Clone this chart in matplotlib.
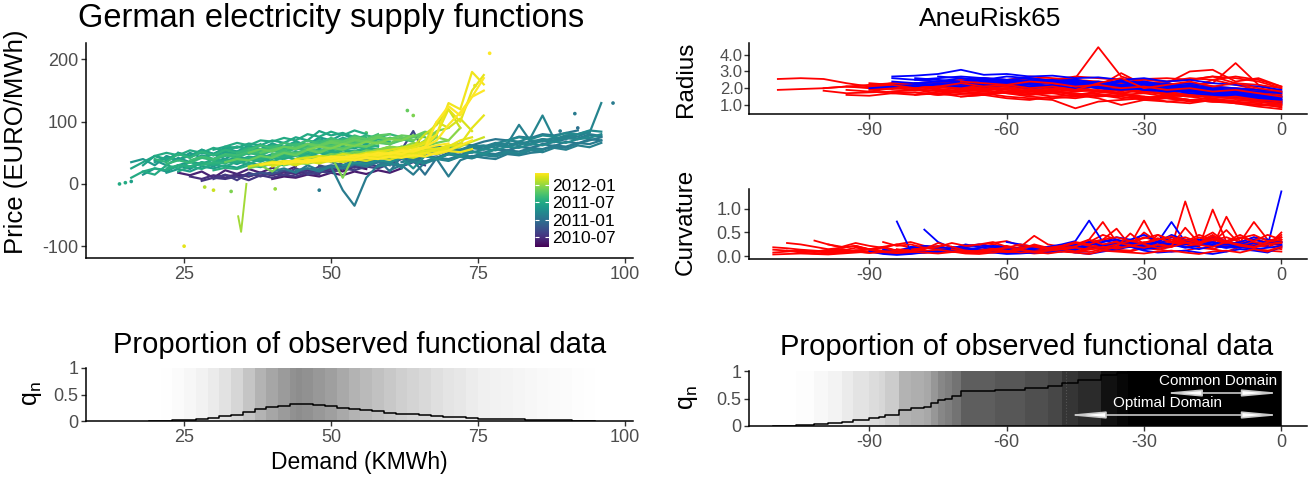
import numpy as np
import matplotlib
matplotlib.use("Agg")
import matplotlib.pyplot as plt
from matplotlib.colors import Normalize

plt.rcParams['font.family'] = ['Liberation Sans', 'DejaVu Sans']
plt.rcParams['mathtext.fontset'] = 'custom'
plt.rcParams['mathtext.rm'] = 'Liberation Sans'
plt.rcParams['mathtext.it'] = 'Liberation Sans:italic'
plt.rcParams['axes.unicode_minus'] = False

nan = np.nan

# ---------------- German electricity supply functions ----------------
# months counted from 2010-07
date_ticks = [0, 6, 12, 18]
date_labels = ['2010-07', '2011-01', '2011-07', '2012-01']

demand_grid = [14, 16, 18, 20, 22, 24, 26, 28, 30, 32, 34, 36, 38, 40, 42, 44, 46, 48, 50,
               52, 54, 56, 58, 60, 62, 64, 66, 68, 70, 72, 74, 76, 78, 80, 82, 84, 86, 88,
               90, 92, 94, 96, 98]

# (month, first demand, prices along demand_grid)
supply_curves = [
    (-3, 30, [10, 14, 12, 16, 13, 18, 15, 20, 17, 22, 19, 24]),
    (-2, 34, [15, 12, 18, 14, 20, 16, 22, 18, 25, 20, 28, 24]),
    (-1.5, 40, [8, 12, 10, 15, 12, 18, 14, 20, 16, 22, 18, 25]),
    (-1, 24, [18, 14, 20, 10, 22, 16, 24, 18, 26, 20, 28]),
    (0, 26, [12, 8, 14, 10, 16, 12, 18, 14, 20, 16, 22, 18, 24]),
    (0.5, 28, [5, 10, 8, 12, 6, 14, 10, 15, 12, 18, 15]),
    (1, 30, [8, 15, 6, 18, 12, 20, 14, 25, 18, 28, 22, 30, 26, 32, 28]),
    (1.5, 46, [15, 20, 18, 25, 22, 28, 25, 32, 28, 35, 30]),
    (2, 48, [30, 25, 35, 40, 38, 45, 50, 55, 85, 48]),
    (2.5, 52, [25, 30, 28, 35, 32, 40, 36, 45, 40, 48]),
    (3, 36, [14, 18, 16, 22, 19, 25, 22, 28, 25, 32]),
    (5, 48, [25, 30, 28, 34, 31, 38, 35, 42, 38, 46, 42, 50, 46, 54]),
    (6, 50, [35, 30, 38, 34, 40, 20, 45, 38, 15, 42, 48, 44, 52, 50, 56, 54, 60, 58, 64, 68, 72]),
    (6, 56, [38, 42, 40, 46, 43, 50, 47, 54, 51, 58, 55, 62, 59, 66, 63, 70, 67, 74, 72, 78, 76]),
    (6.5, 66, [55, 60, 58, 65, 62, 68, 72, 70, 76, 74, 80, 78, 82, 86]),
    (6.5, 64, [40, 45, 42, 48, 45, 52, 49, 56, 53, 60, 57, 64, 61, 68, 65, 72, 70]),
    (7, 58, [30, 35, 28, 40, 36, 42, 38, 45, 42, 50, 46, 52, 48, 56, 55, 60, 58, 65, 70, 75]),
    (7, 44, [22, 25, 20, 28, -10, -35, 10, 30]),
    (7, 40, [20, 25, 18, 30, 22, 28, 25, 32, 28, 35, 30]),
    (7, 60, [22, 30, 15, 35, 40, 12, 38, 45, 42, 40, 48, 46, 50, 52]),
    (7, 68, [52, 56, 54, 60, 57, 64, 61, 68, 65, 72, 69, 76, 73, 80, 77]),
    (7, 62, [35, 38, 36, 42, 40, 46, 44, 50, 48, 54, 52, 58, 56, 62, 60, 66, 64, 70]),
    (7.5, 54, [40, 46, 42, 50, 25, 48, 55, 52, 58, 55, 62, 60, 66, 64, 95, 68, 72, 70, 78, 76, 84]),
    (7.5, 74, [42, 46, 44, 50, 47, 54, 51, 58, 55, 62, 59, 66]),
    (8, 62, [45, 40, 52, 48, 55, 50, 60, 62, 58, 66, 62, 70, 68, 75, 72, 80, 82, 130]),
    (8, 78, [65, 70, 68, 75, 110, 72, 78, 80, 85]),
    (8, 58, [28, 32, 30, 36, 33, 40, 37, 44, 41, 48, 45, 52, 49, 56, 54]),
    (8, 72, [55, 58, 56, 62, 60, 66, 64, 70, 68, 74, 72, 78]),
    (8.5, 70, [48, 52, 50, 56, 54, 60, 58, 64, 62, 68, 66, 72, 74, 80]),
    (8.5, 80, [70, 75, 72, 78, 76, 82, 80, 86, 84]),
    (9, 52, [30, 34, 32, 38, 35, 42, 25, 45, 40, 48, 44, 52, 48, 56]),
    (9.5, 18, [15, 25, 20, 30, 24, 35, 28, 38, 32, 40, 36, 44]),
    (10, 16, [35, 40, 30, 45, 38, 50, 42, 48, 40, 52]),
    (10, 20, [38, 30, 42, 35, 46, 40, 50, 44, 52, 48, 56, 50, 58]),
    (10, 24, [30, 36, 32, 40, 36, 44, 40, 47, 43, 50]),
    (10.5, 26, [45, 52, 48, 56, 50, 60, 55, 65, 58, 68, 62, 75, 70, 80, 72, 78]),
    (10.5, 22, [18, 24, 20, 28, 25, 30, 26, 34, 30, 38, 34, 40, 38, 44, 40]),
    (11, 18, [30, 45, 38, 50, 42, 55, 48, 58, 50, 60, 55, 62, 58, 65, 60, 68, 62]),
    (11, 20, [35, 42, 38, 46, 52, 48, 55, 60, 56, 62, 58, 66, 62, 70, 66, 72, 68, 75]),
    (11, 24, [50, 45, 55, 48, 58, 52, 62, 56, 64, 60, 68, 62, 72, 66, 74, 70]),
    (11, 30, [35, 40, 37, 44, 41, 48, 45, 52, 49, 56, 53, 60, 57, 64, 60]),
    (11.5, 30, [55, 60, 58, 65, 62, 70, 66, 75, 70, 85, 78, 82, 75, 70, 68, 65]),
    (11.5, 16, [25, 35, 45, 40, 48, 44, 50, 46, 52, 48, 55]),
    (11.5, 26, [28, 32, 30, 36, 33, 40, 36, 42, 40, 46, 44, 50, 47, 54, 50, 56, 54, 60]),
    (12, 16, [10, 20, 15, 30, 25, 35, 30, 40, 35, 42, 38, 45, 40]),
    (12, 24, [20, 28, 24, 32, 28, 36, 32, 40, 36, 44, 40, 48, 44, 52, 48]),
    (12, 18, [20, 25, 22, 30, 28, 34, 30, 38, 35, 42, 38, 46, 44, 50, 48]),
    (12, 32, [60, 66, 62, 70, 68, 74, 70, 80, 76, 84, 78, 86, 80]),
    (12, 28, [42, 48, 45, 52, 48, 56, 52, 58, 55, 62, 58, 66, 62, 68, 65, 72, 68]),
    (12, 20, [45, 50, 46, 54, 50, 58, 53, 60, 56, 64]),
    (12.5, 22, [25, 30, 28, 35, 32, 38, 36, 42, 40, 45, 43, 48, 46, 52, 50, 55, 53, 58, 56]),
    (12.5, 30, [22, 26, 24, 30, 27, 33, 30, 36, 34, 40, 37, 44, 40, 46, 44, 50]),
    (13, 20, [40, 35, 48, 42, 52, 46, 55, 50, 58, 54, 62, 58, 65, 60, 70, 65, 72, 68, 74]),
    (13, 28, [30, 35, 33, 40, 37, 44, 42, 48, 45, 52, 50, 56, 54, 60, 58, 62]),
    (13, 34, [45, 50, 47, 54, 50, 58, 54, 62, 58, 66, 62, 70, 66, 74]),
    (13.5, 34, [50, 55, 52, 60, 56, 65, 60, 70, 64, 72, 68, 78, 74, 80, 75]),
    (13.5, 22, [32, 38, 34, 42, 38, 46, 42, 50, 46, 54, 50, 58, 54, 62, 58]),
    (14, 26, [38, 44, 40, 48, 46, 52, 50, 56, 54, 60, 58, 64, 62, 68, 66, 70]),
    (14, 36, [55, 62, 58, 66, 62, 70, 65, 74, 68, 78, 72, 80]),
    (14.5, 40, [48, 52, 50, 56, 53, 60, 57, 64, 60, 68, 64, 72, 68]),
    (15, 40, [45, 50, 48, 55, 52, 60, 58, 62, 60, 66, 64, 70, 75, 82, 78]),
    (15, 46, [58, 62, 60, 66, 64, 70, 67, 74, 72, 78, 75]),
    (15.5, 38, [50, 55, 60, 58, 65, 62, 70, 68, 75, 72, 78, 80]),
    (16, 32, [35, 40, 38, 45, 42, 50, 46, 55, 50, 58, 55, 62, 60, 68, 65, 75, 70, 80]),
    (16, 48, [62, 66, 64, 70, 68, 74, 72, 78, 76, 84, 80]),
    (16, 36, [50, 56, 52, 60, 56, 64, 60, 68, 64, 72, 68, 76, 72]),
    (16.5, 44, [40, 44, 42, 48, 46, 52, 50, 56, 54, 60, 58, 64]),
    (16.5, 50, [45, 50, 48, 54, 52, 58, 56, 62, 60, 66, 70]),
    (17, 36, [25, 30, 20, 35, 30, 40, 38, 45, 10, 48, 50, 55, 52, 60, 58, 70, 85, 90]),
    (17, 42, [30, 34, 32, 38, 36, 42, 40, 46, 44, 50, 48, 54, 52, 58, 56, 62]),
    (17, 46, [55, 60, 57, 64, 61, 68, 65, 72, 70, 78]),
    (17.5, 56, [50, 55, 60, 58, 66, 62, 75, 70, 90]),
    (19, 38, [32, 36, 34, 38, 36, 40, 38, 43, 41, 46, 44, 49, 47, 52, 50, 56, 54, 60]),
    (20, 36, [28, 32, 30, 36, 34, 38, 36, 40, 38, 44, 42, 46, 50, 55, 60, 80, 95, 120, 90]),
    (20, 48, [40, 44, 42, 47, 45, 50, 48, 53, 51, 57, 55, 62, 60, 68, 75]),
    (20.5, 44, [40, 42, 45, 43, 48, 46, 50, 52, 55, 58, 62, 68, 100, 90, 105, 85]),
    (20.5, 40, [28, 34, 30, 36, 33, 38, 35, 40, 37, 42, 39, 45, 42, 48]),
    (21, 38, [30, 35, 32, 38, 35, 40, 38, 42, 40, 45, 43, 48, 46, 52, 50, 56, 60, 70, 75]),
    (21, 40, [33, 36, 34, 38, 36, 41, 39, 44, 42, 47, 45, 50, 48, 54, 52, 58]),
    (21, 56, [48, 52, 50, 55, 53, 58, 56, 62, 64, 90, 110]),
    (21, 62, [55, 58, 65, 80, 120, 100, 150, 175]),
    (21.5, 60, [50, 55, 52, 60, 80, 130, 120, 180, 160]),
    (21.5, 40, [34, 37, 35, 39, 37, 41, 39, 43, 41, 45, 43, 47, 45, 50, 48, 53, 51, 56]),
    (22, 42, [35, 38, 36, 42, 40, 44, 42, 48, 46, 50, 48, 55, 58, 100, 125, 110, 140, 170]),
    (22, 46, [38, 40, 44, 42, 46, 45, 50, 48, 53, 52, 58, 62, 65]),
    (22, 64, [55, 60, 70, 95, 115, 140, 150]),
    (22, 38, [31, 34, 32, 36, 34, 38, 36, 40, 38, 42, 40, 44, 42, 46, 44, 50, 54, 62, 70]),
]
dip_month = 18.5
dip_demand = [34.2, 34.7, 35.6]
dip_price = [-52, -77, 0]

dot_demand = [25, 77, 98, 91.5, 14, 15, 16, 63, 64, 56, 74.5, 30, 28.5, 40.5, 33, 48, 89, 92]
dot_price = [-100, 210, 130, 113, 0, 2, 4, 118, 110, 82, 158, -10, -5, -8, -12, -10, 85, 90]
dot_month = [21, 22, 7, 7, 12, 12, 11, 16, 17, 15, 21, 20, 19, 18, 17, 7, 7, 6]

q_demand = [19, 21, 23, 25, 27, 29, 31, 33, 35, 37, 39, 41, 43, 44, 45, 47, 49, 51, 53,
            55, 57, 59, 61, 63, 65, 67, 69, 71, 73, 75, 77, 79, 81, 83, 85, 87, 89, 91, 93, 95]
q_supply = [0.0, 0.005, 0.012, 0.025, 0.04, 0.06, 0.085, 0.12, 0.17, 0.22, 0.26, 0.29, 0.32,
            0.33, 0.32, 0.30, 0.28, 0.25, 0.22, 0.20, 0.18, 0.16, 0.14, 0.125, 0.11, 0.095,
            0.08, 0.07, 0.055, 0.045, 0.04, 0.035, 0.03, 0.025, 0.02, 0.015, 0.012, 0.006,
            0.003, 0.0]

# ---------------- AneuRisk65 ----------------
radius_t = [-110, -105, -100, -95, -90, -85, -80, -75, -70, -65, -60, -55, -50, -45, -40,
            -35, -30, -25, -20, -15, -10, -5, 0]
radius_red = [
    [2.55, 2.6, 2.55, 2.3, 2.1, 2.2, 2.3, 2.35, 2.4, 2.3, 2.2, 2.35, 2.3, 2.2, 2.3, 2.25, 2.1, 2.2, 2.0, 2.1, 1.9, 1.8, 1.6],
    [1.9, 1.95, 2.0, 2.1, 2.05, 2.15, 2.2, 2.1, 2.25, 2.3, 2.4, 2.3, 2.35, 2.2, 2.1, 2.3, 2.4, 2.2, 2.3, 2.1, 2.0, 1.9, 1.7],
    [nan, nan, 1.85, 1.7, 1.75, 1.8, 1.9, 1.85, 1.7, 1.6, 1.75, 1.8, 1.9, 2.0, 2.1, 1.9, 1.8, 1.7, 1.6, 1.5, 1.4, 1.35, 1.2],
    [nan, nan, nan, 1.6, 1.55, 1.7, 1.75, 1.6, 1.8, 1.9, 1.7, 1.5, 1.4, 1.5, 1.6, 1.7, 1.5, 1.4, 1.3, 1.2, 1.15, 1.0, 0.9],
    [nan, nan, nan, nan, 2.0, 2.05, 2.1, 2.2, 2.15, 2.25, 2.3, 2.4, 2.5, 2.6, 4.45, 2.7, 2.3, 2.4, 2.5, 2.7, 2.3, 2.2, 2.0],
    [nan, nan, nan, nan, nan, 2.3, 2.2, 2.4, 2.3, 2.5, 2.4, 2.6, 2.5, 2.7, 2.6, 2.5, 2.55, 2.6, 2.5, 2.7, 2.6, 2.4, 2.0],
    [nan, nan, nan, nan, 1.8, 1.7, 1.75, 1.6, 1.65, 1.7, 1.5, 1.4, 1.3, 0.8, 1.2, 1.3, 1.4, 1.5, 1.3, 1.2, 1.1, 0.9, 0.75],
    [nan, nan, nan, 2.1, 2.0, 1.95, 2.05, 2.1, 2.0, 1.9, 2.0, 2.1, 2.0, 1.9, 1.8, 1.9, 2.0, 2.1, 2.2, 2.3, 3.5, 2.2, 1.8],
    [nan, nan, nan, nan, nan, 1.8, 1.9, 1.7, 1.8, 2.0, 1.9, 1.7, 1.8, 1.6, 1.7, 1.9, 1.8, 1.6, 1.5, 1.6, 1.4, 1.3, 1.1],
    [nan, nan, nan, nan, 2.1, 2.3, 2.2, 2.4, 2.2, 2.0, 2.2, 2.3, 2.1, 2.0, 2.2, 2.0, 1.9, 2.0, 1.8, 1.9, 1.7, 1.6, 1.4],
    [nan, nan, nan, nan, nan, nan, 1.6, 1.7, 1.5, 1.6, 1.8, 1.7, 1.5, 1.4, 1.6, 1.5, 1.3, 1.4, 1.2, 1.3, 1.1, 1.0, 1.0],
    [nan, nan, nan, 1.9, 1.8, 2.0, 2.1, 1.9, 2.0, 2.2, 2.1, 2.0, 1.8, 1.9, 2.1, 2.0, 1.8, 1.7, 1.9, 1.8, 1.6, 1.5, 1.3],
    [nan, nan, nan, nan, 2.2, 2.3, 2.25, 2.1, 2.2, 2.3, 2.2, 2.1, 2.2, 2.3, 2.1, 2.9, 2.2, 2.3, 3.0, 3.1, 2.4, 2.6, 2.1],
    [nan, nan, nan, nan, nan, nan, nan, 1.9, 1.8, 1.7, 1.8, 1.6, 1.7, 1.5, 1.6, 1.4, 1.5, 1.2, 1.3, 1.4, 1.1, 1.2, 1.0],
    [nan, nan, nan, nan, nan, 2.0, 1.9, 2.0, 2.1, 2.0, 1.95, 2.1, 2.15, 2.0, 1.85, 1.9, 1.7, 1.8, 1.6, 1.7, 1.5, 1.4, 1.3],
    [nan, nan, 2.0, 2.1, 2.2, 2.1, 2.0, 2.2, 2.1, 1.9, 2.0, 1.8, 1.9, 2.0, 1.8, 1.7, 1.9, 1.6, 1.7, 1.5, 1.6, 1.4, 1.5],
    [nan, nan, nan, nan, 1.9, 2.0, 2.1, 2.2, 2.3, 2.2, 2.4, 2.5, 2.3, 2.4, 2.2, 2.3, 2.0, 2.1, 1.9, 1.8, 2.0, 1.7, 1.6],
    [nan, nan, nan, nan, nan, nan, 2.3, 2.4, 2.5, 2.6, 2.5, 2.7, 2.6, 2.5, 2.4, 2.3, 2.5, 2.4, 2.6, 2.5, 2.7, 2.5, 2.1],
    [nan, nan, nan, nan, nan, nan, nan, nan, 1.5, 1.6, 1.4, 1.3, 1.5, 1.6, 1.4, 1.0, 1.3, 1.2, 1.1, 1.3, 1.2, 1.1, 0.85],
    [nan, nan, nan, nan, nan, nan, nan, 2.1, 2.2, 2.0, 2.1, 1.9, 2.0, 2.2, 2.0, 1.8, 2.1, 2.3, 2.0, 2.5, 2.2, 1.9, 1.7],
    [nan, nan, nan, nan, nan, 1.7, 1.6, 1.8, 1.9, 1.8, 1.7, 1.6, 1.8, 1.7, 1.5, 1.6, 1.4, 1.5, 1.3, 1.2, 1.3, 1.2, 1.0],
    [nan, nan, nan, nan, nan, nan, nan, nan, 2.4, 2.3, 2.2, 2.4, 2.3, 2.1, 2.2, 2.0, 2.1, 1.9, 2.0, 1.8, 1.9, 1.7, 1.5],
    [nan, nan, nan, nan, 2.3, 2.2, 2.0, 2.1, 1.9, 2.0, 1.8, 1.9, 1.7, 1.8, 1.9, 1.6, 1.7, 1.5, 1.6, 1.4, 1.5, 1.3, 1.2],
    [nan, nan, nan, nan, nan, nan, nan, nan, nan, 1.9, 2.0, 1.8, 1.9, 1.6, 1.8, 1.7, 1.4, 1.6, 1.5, 1.3, 1.4, 1.2, 1.1],
    [nan, nan, nan, nan, nan, nan, 2.0, 2.1, 2.3, 2.1, 2.2, 2.0, 2.1, 1.9, 2.3, 2.6, 2.0, 2.2, 2.4, 2.1, 2.3, 2.0, 1.8],
]
radius_blue = [
    [nan, nan, nan, nan, nan, 2.7, 2.75, 2.85, 3.1, 2.8, 2.85, 2.7, 2.75, 2.6, 2.65, 2.5, 2.6, 2.4, 2.5, 2.3, 2.2, 2.1, 1.9],
    [nan, nan, nan, nan, nan, 2.6, 2.5, 2.6, 2.7, 2.6, 2.5, 2.6, 2.45, 2.5, 2.3, 2.4, 2.2, 2.3, 2.1, 2.0, 1.9, 1.8, 1.7],
    [nan, nan, nan, nan, 2.0, 2.1, 2.2, 2.15, 2.3, 2.25, 2.4, 2.3, 2.35, 2.2, 2.3, 2.1, 2.2, 2.0, 1.9, 1.8, 1.7, 1.6, 1.4],
    [nan, nan, nan, nan, nan, nan, 2.3, 2.4, 2.35, 2.5, 2.4, 2.45, 2.3, 2.4, 2.2, 2.5, 2.3, 2.2, 2.0, 1.9, 1.7, 1.5, 1.3],
    [nan, nan, nan, nan, nan, nan, nan, 2.2, 2.1, 2.3, 2.2, 2.25, 2.4, 2.3, 2.1, 2.2, 1.9, 2.0, 1.8, 1.7, 1.5, 1.4, 1.2],
    [nan, nan, nan, nan, nan, 2.4, 2.3, 2.2, 2.3, 2.1, 2.2, 2.0, 2.1, 2.2, 2.0, 1.9, 2.0, 1.8, 1.9, 1.7, 1.6, 1.5, 1.4],
    [nan, nan, nan, nan, nan, nan, nan, nan, nan, 2.5, 2.4, 2.3, 2.4, 2.2, 2.3, 2.1, 2.2, 2.0, 2.1, 1.9, 1.8, 1.6, 1.1],
    [nan, nan, nan, nan, nan, nan, 2.6, 2.5, 2.4, 2.6, 2.5, 2.4, 2.5, 2.3, 2.4, 2.2, 2.3, 2.1, 2.2, 2.0, 1.8, 1.7, 1.5],
    [nan, nan, nan, nan, nan, nan, nan, nan, 2.3, 2.2, 2.3, 2.1, 2.2, 2.0, 2.1, 2.2, 2.0, 1.9, 1.8, 1.7, 1.6, 1.4, 1.3],
    [nan, nan, nan, nan, nan, nan, 2.5, 2.4, 2.6, 2.4, 2.3, 2.5, 2.4, 2.3, 2.2, 2.4, 2.1, 2.0, 2.1, 1.9, 1.8, 1.6, 1.5],
    [nan, nan, nan, nan, nan, nan, nan, nan, nan, nan, 2.2, 2.3, 2.1, 2.2, 2.0, 2.1, 1.9, 1.8, 1.9, 1.7, 1.6, 1.5, 1.2],
    [nan, nan, nan, nan, nan, 2.2, 2.1, 2.3, 2.2, 2.4, 2.3, 2.2, 2.1, 2.3, 2.2, 2.0, 2.1, 1.9, 1.7, 1.6, 1.5, 1.3, 1.1],
    [nan, nan, nan, nan, nan, nan, nan, 2.7, 2.6, 2.5, 2.7, 2.6, 2.4, 2.5, 2.3, 2.2, 2.4, 2.2, 2.3, 2.1, 2.0, 1.9, 1.8],
]

curv_t = [-111, -108, -105, -102, -99, -96, -93, -90, -87, -84, -81, -78, -75, -72, -69,
          -66, -63, -60, -57, -54, -51, -48, -45, -42, -39, -36, -33, -30, -27, -24, -21,
          -18, -15, -12, -9, -6, -3, 0]
curv_red = [
    [.19, .17, .14, .12, .10, .11, .13, .10, .08, .12,
     .15, .20, .15, .10, .12, .14, .10, .08, .12, .15,
     .10, .12, .18, .22, .15, .20, .30, .25, .35, .20,
     .30, .25, .40, .20, .30, .25, .20, .30],
    [.04, .05, .06, .05, .04, .06, .08, .10, .07, .05,
     .06, .08, .12, .10, .06, .05, .08, .10, .09, .06,
     .08, .10, .12, .09, .15, .12, .10, .18, .14, .20,
     1.15, .30, .15, .25, .20, .15, .12, .10],
    [.14, .12, .10, .09, .12, .15, .10, .08, .12, .14,
     .10, .16, .20, .14, .10, .12, .18, .15, .12, .10,
     .14, .18, .22, .28, .20, .16, .25, .75, .22, .30,
     .25, .20, .98, .30, .25, .35, .30, .40],
    [nan, nan, nan, .33, .25, .18, .22, .15, .20, .12,
     .18, .22, .15, .20, .12, .14, .18, .22, .16, .14,
     .20, .18, .25, .35, .72, .30, .22, .28, .20, .25,
     .30, .25, .20, .83, .30, .40, .25, .45],
    [nan, nan, nan, nan, .25, .20, .28, .22, .18, .25,
     .30, .22, .18, .15, .20, .25, .18, .14, .20, .43,
     .25, .20, .25, .30, .35, .58, .22, .50, .30, .25,
     .35, .30, .45, .25, .30, .72, .35, .30],
    [.08, .10, .12, .10, .08, .09, .12, .15, .10, .08,
     .12, .10, .08, .12, .15, .10, .12, .08, .10, .14,
     .12, .18, .15, .20, .25, .18, .22, .30, .25, .35,
     .28, .40, .30, .55, .25, .35, .28, .22],
    [nan, nan, nan, .10, .14, .12, .18, .15, .12, .10,
     .14, .18, .22, .16, .12, .18, .25, .20, .15, .12,
     .18, .22, .16, .28, .24, .32, .26, .20, .45, .30,
     .25, .35, .50, .28, .22, .30, .25, .35],
    [nan, nan, nan, nan, nan, .08, .12, .15, .10, .06,
     .08, .12, .10, .14, .18, .12, .10, .08, .12, .15,
     .10, .12, .08, .15, .18, .14, .12, .20, .15, .10,
     .12, .18, .15, .10, .20, .15, .12, .18],
    [nan, nan, nan, nan, nan, nan, nan, .12, .20, .25,
     .18, .12, .10, .14, .20, .24, .28, .32, .22, .18,
     .15, .20, .25, .30, .45, .35, .28, .40, .32, .25,
     .30, .45, .35, .40, .30, .28, .22, .50],
    [nan, .28, .25, .20, .15, .18, .22, .14, .10, .08,
     .06, .10, .14, .12, .08, .10, .15, .18, .12, .10,
     .08, .12, .10, .15, .20, .18, .25, .22, .18, .30,
     .20, .25, .30, .22, .18, .25, .20, .15],
    [nan, nan, nan, nan, nan, nan, nan, nan, .30, .22,
     .25, .18, .20, .28, .22, .25, .30, .20, .15, .25,
     .18, .22, .30, .25, .35, .40, .32, .38, .45, .35,
     .40, .30, .35, .28, .40, .32, .45, .35],
    [nan, nan, nan, nan, nan, nan, nan, nan, nan, nan,
     nan, nan, nan, .15, .10, .08, .12, .10, .14, .09,
     .06, .10, .08, .05, .12, .10, .08, .06, .10, .12,
     .08, .05, .10, .12, .08, .15, .10, .20],
    [nan, nan, nan, nan, nan, nan, .20, .15, .18, .12,
     .10, .15, .28, .20, .12, .10, .15, .18, .25, .20,
     .15, .18, .20, .35, .25, .30, .22, .28, .35, .42,
     .30, .25, .38, .32, .45, .30, .25, .28],
    [nan, nan, nan, nan, nan, nan, nan, nan, nan, .15,
     .12, .18, .14, .10, .08, .12, .16, .12, .08, .10,
     .12, .15, .10, .18, .14, .20, .48, .25, .18, .22,
     .60, .28, .35, .30, .25, .20, .30, .35],
    [nan, nan, nan, nan, nan, nan, nan, nan, nan, nan,
     nan, nan, nan, nan, nan, .12, .15, .10, .18, .22,
     .15, .20, .28, .22, .18, .25, .32, .28, .38, .30,
     .35, .28, .42, .30, .38, .45, .32, .40],
    [nan, .12, .08, .06, .05, .08, .10, .07, .09, .12,
     .10, .08, .06, .09, .12, .10, .08, .11, .14, .10,
     .12, .15, .18, .14, .20, .16, .22, .18, .25, .20,
     .28, .24, .20, .30, .22, .18, .25, .30],
]
curv_blue = [
    [nan, nan, nan, nan, nan, nan, nan, nan, nan, .73,
     .12, .08, .10, .14, .18, .15, .10, .12, .14, .10,
     .08, .12, .15, .20, .18, .25, .30, .22, .20, .25,
     .18, .22, .30, .25, .20, .28, .22, 1.36],
    [nan, nan, nan, nan, nan, nan, nan, nan, nan, nan,
     nan, .56, .30, .18, .22, .25, .20, .15, .12, .18,
     .20, .25, .32, .75, .30, .40, .35, .45, .30, .72,
     .30, .35, .28, .25, .30, .40, .35, .30],
    [nan, nan, nan, nan, nan, nan, nan, .10, .05, .03,
     .05, .08, .10, .12, .15, .10, .08, .05, .06, .08,
     .10, .12, .08, .05, .10, .15, .20, .12, .08, .10,
     .12, .08, .05, .10, .15, .12, .08, .20],
    [nan, nan, nan, nan, nan, nan, nan, nan, nan, nan,
     nan, nan, nan, nan, nan, nan, nan, .30, .25, .20,
     .15, .10, .18, .25, .30, .35, .28, .20, .25, .40,
     .35, .30, .25, .20, .18, .22, .30, .25],
    [nan, nan, nan, nan, nan, nan, nan, nan, nan, nan,
     .20, .18, .15, .12, .14, .18, .22, .20, .15, .12,
     .10, .15, .20, .18, .22, .25, .20, .15, .18, .22,
     .25, .30, .22, .18, .20, .15, .18, .22],
    [nan, nan, nan, nan, nan, nan, nan, nan, .15, .12,
     .18, .22, .20, .16, .25, .20, .15, .12, .18, .22,
     .16, .20, .25, .30, .22, .28, .35, .25, .30, .45,
     .35, .28, .40, .32, .25, .20, .28, .25],
    [nan, nan, nan, nan, nan, nan, nan, nan, nan, nan,
     nan, nan, nan, .20, .15, .12, .18, .14, .10, .15,
     .20, .18, .14, .22, .35, .25, .20, .18, .30, .25,
     .20, .15, .22, .18, .25, .35, .28, .30],
]

# proportion of observed curves (step function)
q_t = [-111, -106, -102, -99, -96, -93.5, -90, -88, -86.5, -83.5, -81, -78, -76.5, -75,
       -73.5, -72, -70, -62.5, -56, -51, -48, -44.5, -39.5, -36, -33.5, 0, 0]
q_aneu = [0.0, 0.01, 0.03, 0.05, 0.08, 0.11, 0.14, 0.16, 0.2, 0.3, 0.32, 0.34, 0.41, 0.47,
          0.5, 0.55, 0.63, 0.66, 0.69, 0.72, 0.79, 0.83, 0.93, 0.97, 1.0, 1.0, 0.0]
optimal_start = -47
common_start = -26

# ---------------- figure ----------------
W, H = 1315, 480
fig = plt.figure(figsize=(W / 100, H / 100), dpi=100)

def box(l, t, r, b):
    return [l / W, 1 - b / H, (r - l) / W, (b - t) / H]

tick_grey = '#4D4D4D'

def style(ax, fs=13):
    for s in ['top', 'right']:
        ax.spines[s].set_visible(False)
    for s in ['left', 'bottom']:
        ax.spines[s].set_linewidth(1.1)
        ax.spines[s].set_color('black')
    ax.tick_params(direction='out', length=3.5, width=1, color='#333333',
                   labelcolor=tick_grey, labelsize=fs, pad=2)

ax1 = fig.add_axes(box(86, 43, 633, 258))
ax2 = fig.add_axes(box(749, 43, 1307, 114))
ax3 = fig.add_axes(box(749, 189, 1307, 259))
ax4 = fig.add_axes(box(86, 368, 633, 421))
ax5 = fig.add_axes(box(749, 371, 1307, 426))

# supply functions, oldest first
norm = Normalize(vmin=-3.45, vmax=22.0)
cmap = plt.get_cmap('viridis')
for month, d0, prices in sorted(supply_curves, key=lambda c: c[0]):
    i0 = demand_grid.index(d0)
    ax1.plot(demand_grid[i0:i0 + len(prices)], prices, color=cmap(norm(month)), lw=1.6)
ax1.plot(dip_demand, dip_price, color=cmap(norm(dip_month)), lw=1.4)
ax1.scatter(dot_demand, dot_price, c=dot_month, cmap=cmap, norm=norm, s=7, lw=0)
ax1.set_xlim(8.3, 101.4)
ax1.set_ylim(-119, 226.5)
ax1.set_xticks([25, 50, 75, 100])
ax1.set_yticks([-100, 0, 100, 200])
style(ax1)

cax = fig.add_axes(box(535, 173, 549, 247))
sm = plt.cm.ScalarMappable(norm=norm, cmap=cmap)
cb = fig.colorbar(sm, cax=cax, ticks=date_ticks)
cb.ax.set_yticklabels(date_labels)
cb.outline.set_visible(False)
cb.ax.tick_params(direction='in', length=3, width=0.8, color='white', labelcolor='black',
                  labelsize=12.5, left=True, right=True, pad=2)

# AneuRisk radius & curvature: most red first, blue on top, a few red last
for curve in radius_red[:20]:
    ax2.plot(radius_t, curve, color='#FF0000', lw=1.3)
for curve in radius_blue:
    ax2.plot(radius_t, curve, color='#0000FF', lw=1.3)
for curve in radius_red[20:]:
    ax2.plot(radius_t, curve, color='#FF0000', lw=1.3)
ax2.set_xlim(-116.3, 5.6)
ax2.set_ylim(0.46, 4.7)
ax2.set_xticks([-90, -60, -30, 0])
ax2.set_yticks([1.0, 2.0, 3.0, 4.0])
ax2.set_yticklabels(['1.0', '2.0', '3.0', '4.0'])
style(ax2)
ax2.tick_params(axis='y', labelsize=12, pad=1)

for curve in curv_red[:10]:
    ax3.plot(curv_t, curve, color='#FF0000', lw=1.3)
for curve in curv_blue:
    ax3.plot(curv_t, curve, color='#0000FF', lw=1.3)
for curve in curv_red[10:]:
    ax3.plot(curv_t, curve, color='#FF0000', lw=1.3)
ax3.set_xlim(-116.3, 5.6)
ax3.set_ylim(-0.055, 1.41)
ax3.set_xticks([-90, -60, -30, 0])
ax3.set_yticks([0.0, 0.5, 1.0])
ax3.set_yticklabels(['0.0', '0.5', '1.0'])
style(ax3)

# proportion panels
ax4.pcolormesh(q_demand, [0, 1], [q_supply[:-1]], cmap='gray_r',
               norm=Normalize(0, 0.74), shading='flat')
ax4.plot(q_demand, q_supply, color='black', lw=1.1, drawstyle='steps-post')
ax4.set_xlim(8.3, 101.4)
ax4.set_ylim(0, 1)
ax4.set_xticks([25, 50, 75, 100])
ax4.set_yticks([0, 0.5, 1])
ax4.set_yticklabels(['0', '0.5', '1'])
style(ax4)

ax5.pcolormesh(q_t[:-1], [0, 1], [q_aneu[:-2]], cmap='gray_r',
               norm=Normalize(0, 1), shading='flat')
ax5.plot(q_t, q_aneu, color='black', lw=1.1, drawstyle='steps-post')
ax5.axvline(optimal_start, color='#555555', lw=0.8, ls=':')
ax5.set_xlim(-116.3, 5.6)
ax5.set_ylim(0, 1)
ax5.set_xticks([-90, -60, -30, 0])
ax5.set_yticks([0, 0.5, 1])
ax5.set_yticklabels(['0', '0.5', '1'])
style(ax5)

arrow = dict(arrowstyle='<|-|>,head_length=22,head_width=2.0', mutation_scale=1,
             facecolor='white', edgecolor='#C8C8C8', lw=1.2, shrinkA=0, shrinkB=0)
ax5.annotate('', xy=(0, 0.6), xytext=(common_start, 0.6), arrowprops=arrow)
ax5.annotate('', xy=(0, 0.2), xytext=(optimal_start, 0.2), arrowprops=arrow)
ax5.text(-13.9, 0.82, 'Common Domain', color='white', fontsize=11, ha='center', va='center')
ax5.text(-24.8, 0.41, 'Optimal Domain', color='white', fontsize=11, ha='center', va='center')

# titles and axis labels
fig.text(331 / W, 1 - 19 / H, 'German electricity supply functions', fontsize=23.5,
         ha='center', va='center')
fig.text(990 / W, 1 - 19 / H, 'AneuRisk65', fontsize=19, ha='center', va='center')
fig.text(360 / W, 1 - 345 / H, 'Proportion of observed functional data', fontsize=21,
         ha='center', va='center')
fig.text(1027 / W, 1 - 347 / H, 'Proportion of observed functional data', fontsize=21,
         ha='center', va='center')
fig.text(16 / W, 1 - 142 / H, 'Price (EURO/MWh)', fontsize=18.5, rotation=90,
         ha='center', va='center')
fig.text(686 / W, 1 - 79 / H, 'Radius', fontsize=17.5, rotation=90, ha='center', va='center')
fig.text(686 / W, 1 - 222 / H, 'Curvature', fontsize=17.5, rotation=90, ha='center', va='center')
fig.text(32 / W, 1 - 394 / H, r'$\mathregular{q_n}$', fontsize=18, rotation=90,
         ha='center', va='center')
fig.text(688 / W, 1 - 398 / H, r'$\mathregular{q_n}$', fontsize=18, rotation=90,
         ha='center', va='center')
fig.text(359 / W, 1 - 463 / H, 'Demand (KMWh)', fontsize=16.5, ha='center', va='center')

fig.savefig('out.png', dpi=100)
